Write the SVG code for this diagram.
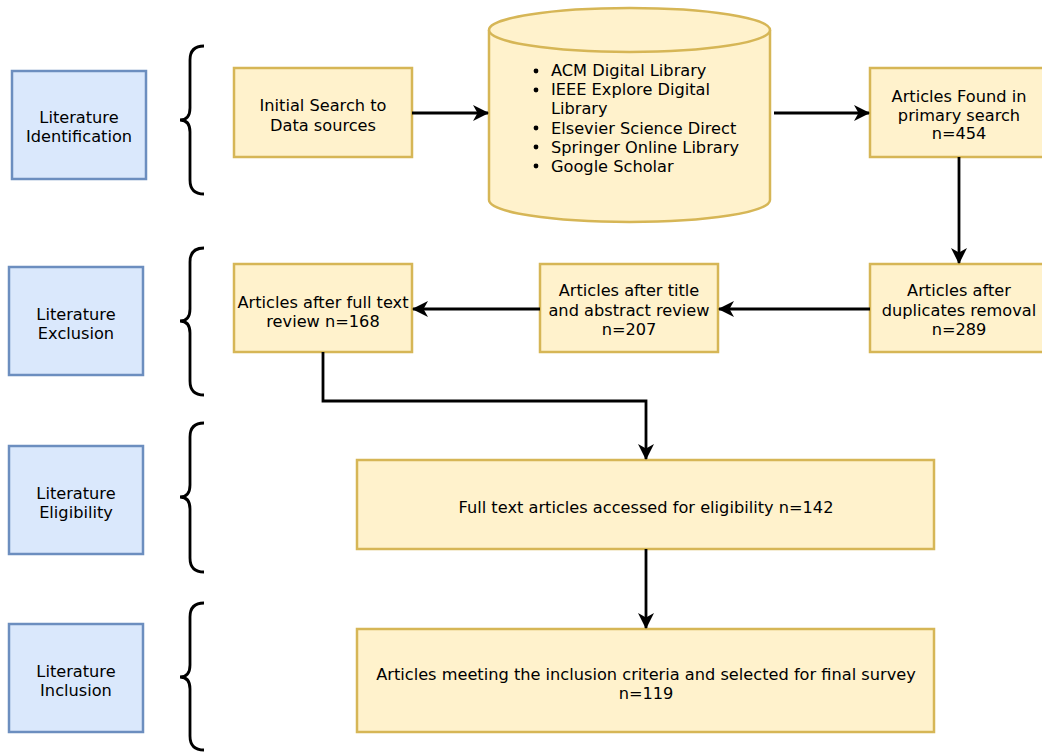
<svg xmlns="http://www.w3.org/2000/svg" width="1042" height="752" viewBox="0 0 1042 752">
<style>
text{font-family:"DejaVu Sans",Verdana,sans-serif;font-size:16.2px;fill:#000;text-anchor:middle}
.y{fill:#fff2cc;stroke:#d6b656;stroke-width:2.5}
.b{fill:#dae8fc;stroke:#6c8ebf;stroke-width:2.5}
.br{fill:none;stroke:#000;stroke-width:2.8}
.c{fill:none;stroke:#000;stroke-width:2.8}
.l{text-anchor:start}
</style>
<defs>
<marker id="ah" viewBox="0 0 16 16" refX="15" refY="8" markerWidth="16" markerHeight="16" markerUnits="userSpaceOnUse" orient="auto">
<path d="M0,0 L16,8 L0,16 L4.5,8 Z" fill="#000"/>
</marker>
</defs>
<rect width="1042" height="752" fill="#fff"/>
<g id="phase-identification"><rect class="b" x="12" y="71" width="134" height="108"/><text x="79" y="123">Literature</text><text x="79" y="142">Identification</text></g>
<g id="phase-exclusion"><rect class="b" x="9" y="267" width="134" height="108"/><text x="76" y="320">Literature</text><text x="76" y="339">Exclusion</text></g>
<g id="phase-eligibility"><rect class="b" x="9" y="446" width="134" height="108"/><text x="76" y="499">Literature</text><text x="76" y="518">Eligibility</text></g>
<g id="phase-inclusion"><rect class="b" x="9" y="624" width="134" height="108"/><text x="76" y="677">Literature</text><text x="76" y="696">Inclusion</text></g>
<g id="braces">
<path class="br" d="M204,46 Q190,46 190,60 L190,108 Q190,120 180,120 Q190,120 190,132 L190,180 Q190,194 204,194"/>
<path class="br" d="M204,248 Q190,248 190,262 L190,309 Q190,321 180,321 Q190,321 190,333 L190,381 Q190,395 204,395"/>
<path class="br" d="M204,423 Q190,423 190,437 L190,485 Q190,497 180,497 Q190,497 190,509 L190,558 Q190,572 204,572"/>
<path class="br" d="M204,603 Q190,603 190,617 L190,665 Q190,677 180,677 Q190,677 190,689 L190,736 Q190,750 204,750"/>
</g>
<g id="initial-search"><rect class="y" x="234" y="68" width="178" height="89"/><text x="323" y="111">Initial Search to</text><text x="323" y="131">Data sources</text></g>
<g id="data-sources">
<path class="y" d="M489,30 L489,200 A140.5,22 0 0 0 770,200 L770,30"/>
<ellipse class="y" cx="629.5" cy="30" rx="140.5" ry="22"/>
<g fill="#000"><circle cx="536" cy="71" r="2.4"/><circle cx="536" cy="90" r="2.4"/><circle cx="536" cy="128" r="2.4"/><circle cx="536" cy="147" r="2.4"/><circle cx="536" cy="166" r="2.4"/></g>
<text class="l" x="551" y="76">ACM Digital Library</text>
<text class="l" x="551" y="95">IEEE Explore Digital</text>
<text class="l" x="551" y="114">Library</text>
<text class="l" x="551" y="134">Elsevier Science Direct</text>
<text class="l" x="551" y="153">Springer Online Library</text>
<text class="l" x="551" y="172">Google Scholar</text>
</g>
<g id="found"><rect class="y" x="870" y="68" width="178" height="89"/><text x="959" y="102">Articles Found in</text><text x="959" y="121">primary search</text><text x="959" y="139">n=454</text></g>
<g id="duplicates"><rect class="y" x="870" y="264" width="178" height="88"/><text x="959" y="296">Articles after</text><text x="959" y="316">duplicates removal</text><text x="959" y="335">n=289</text></g>
<g id="title-abstract"><rect class="y" x="540" y="264" width="178" height="88"/><text x="629" y="296">Articles after title</text><text x="629" y="316">and abstract review</text><text x="629" y="335">n=207</text></g>
<g id="full-text"><rect class="y" x="234" y="264" width="178" height="88"/><text x="323" y="308">Articles after full text</text><text x="323" y="327">review n=168</text></g>
<g id="eligibility"><rect class="y" x="357" y="460" width="577" height="89"/><text x="646" y="513">Full text articles accessed for eligibility n=142</text></g>
<g id="inclusion"><rect class="y" x="357" y="629" width="577" height="103"/><text x="646" y="680">Articles meeting the inclusion criteria and selected for final survey</text><text x="646" y="699">n=119</text></g>
<g id="connectors">
<path class="c" d="M412,113 L488,113" marker-end="url(#ah)"/>
<path class="c" d="M774,113 L869,113" marker-end="url(#ah)"/>
<path class="c" d="M959,157 L959,263" marker-end="url(#ah)"/>
<path class="c" d="M870,309 L719,309" marker-end="url(#ah)"/>
<path class="c" d="M540,309 L413,309" marker-end="url(#ah)"/>
<path class="c" d="M323,352 L323,401 L646,401 L646,459" marker-end="url(#ah)"/>
<path class="c" d="M646,549 L646,628" marker-end="url(#ah)"/>
</g>
</svg>
